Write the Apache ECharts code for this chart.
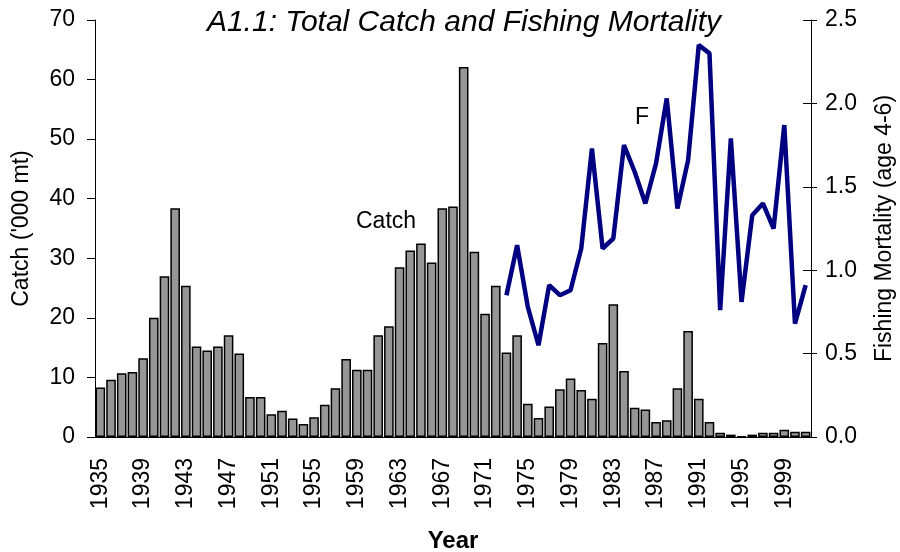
<!DOCTYPE html>
<html>
<head>
<meta charset="utf-8">
<script src="https://cdn.jsdelivr.net/npm/echarts@6/dist/echarts.min.js"></script>
<style>
  html, body { margin: 0; padding: 0; background: #fff; }
  #chart { width: 900px; height: 552px; }
</style>
</head>
<body>
<div id="chart"></div>
<script>
// years 1935..2001
const years = []
for (let y = 1935; y <= 2001; y++) years.push(String(y))

// total catch ('000 t)
const catchValues = [
  8.3, 9.6, 10.7, 10.9, 13.2, 20.0, 27.0, 38.4, 25.4, 15.2,
  14.5, 15.2, 17.1, 14.0, 6.7, 6.7, 3.8, 4.4, 3.1, 2.2,
  3.3, 5.4, 8.2, 13.1, 11.3, 11.3, 17.1, 18.6, 28.5, 31.3,
  32.5, 29.3, 38.4, 38.7, 62.1, 31.1, 20.7, 25.4, 14.2, 17.1,
  5.6, 3.2, 5.1, 8.0, 9.8, 7.9, 6.4, 15.8, 22.3, 11.1,
  4.9, 4.6, 2.5, 2.8, 8.2, 17.8, 6.4, 2.5, 0.7, 0.4,
  0.1, 0.4, 0.7, 0.7, 1.2, 0.9, 0.9
]

// fishing mortality F (age 4-6), starts 1973
const fValues = [
  0.85, 1.15, 0.78, 0.55, 0.91, 0.85, 0.88, 1.13, 1.73, 1.13,
  1.19, 1.75, 1.59, 1.40, 1.64, 2.03, 1.37, 1.66, 2.35, 2.30,
  0.76, 1.79, 0.81, 1.33, 1.40, 1.25, 1.87, 0.68, 0.91
]
const fStart = '1973'

const fSeries = years.map(y => {
  const i = Number(y) - Number(fStart)
  return i >= 0 && i < fValues.length ? fValues[i] : '-'
})

const font = 'Liberation Sans, Arial, sans-serif'
const axisColor = '#000'

const chart = echarts.init(document.getElementById('chart'))

chart.setOption({
  animation: false,
  textStyle: { fontFamily: font },
  title: {
    text: 'A1.1: Total Catch and Fishing Mortality',
    left: 459,
    textAlign: 'center',
    top: 3,
    textStyle: { fontSize: 30, fontStyle: 'italic', fontWeight: 'normal', color: '#000', fontFamily: font }
  },
  grid: { left: 95, right: 89, top: 20, bottom: 115, outerBoundsMode: 'none' },
  xAxis: {
    type: 'category',
    data: years,
    name: 'Year',
    nameLocation: 'middle',
    nameGap: 92,
    nameTextStyle: { fontSize: 24, fontWeight: 'bold', color: '#000' },
    axisLine: { lineStyle: { color: axisColor, width: 1 } },
    axisTick: { interval: 0, length: 8, lineStyle: { color: axisColor } },
    axisLabel: { interval: 3, rotate: 90, margin: 21, fontSize: 23, color: '#000' },
    splitLine: { show: false }
  },
  yAxis: [
    {
      type: 'value',
      min: 0, max: 70, interval: 10,
      name: "Catch ('000 mt)",
      nameLocation: 'middle',
      nameRotate: 90,
      nameGap: 62,
      nameTextStyle: { fontSize: 23, color: '#000' },
      axisLine: { show: true, lineStyle: { color: axisColor } },
      axisTick: { show: true, length: 8, lineStyle: { color: axisColor } },
      axisLabel: { fontSize: 23, color: '#000', margin: 20 },
      splitLine: { show: false }
    },
    {
      type: 'value',
      position: 'right',
      min: 0, max: 2.5, interval: 0.5,
      name: 'Fishing Mortality (age 4-6)',
      nameLocation: 'middle',
      nameRotate: 90,
      nameGap: 62,
      nameTextStyle: { fontSize: 23, color: '#000' },
      axisLine: { show: true, lineStyle: { color: axisColor } },
      axisTick: { show: true, length: 6, lineStyle: { color: axisColor } },
      axisLabel: { fontSize: 23, color: '#000', margin: 14, formatter: v => v.toFixed(1) },
      splitLine: { show: false }
    },
    {
      // inner half of the crossing ticks on the right axis
      type: 'value',
      position: 'right',
      min: 0, max: 2.5, interval: 0.5,
      axisLine: { show: false },
      axisTick: { show: true, inside: true, length: 8, lineStyle: { color: axisColor } },
      axisLabel: { show: false },
      splitLine: { show: false }
    }
  ],
  series: [
    {
      name: 'Catch',
      type: 'bar',
      data: catchValues,
      barCategoryGap: '10%',
      itemStyle: { color: '#969696', borderColor: '#000', borderWidth: 1.5 }
    },
    {
      name: 'F',
      type: 'line',
      yAxisIndex: 1,
      data: fSeries,
      symbol: 'none',
      lineStyle: { color: '#000080', width: 4.5 }
    }
  ],
  graphic: [
    { type: 'text', left: 356, top: 210, style: { text: 'Catch', font: '23px ' + font, fill: '#000' } },
    { type: 'text', left: 635, top: 106, style: { text: 'F', font: '23px ' + font, fill: '#000' } }
  ]
})
</script>
</body>
</html>
